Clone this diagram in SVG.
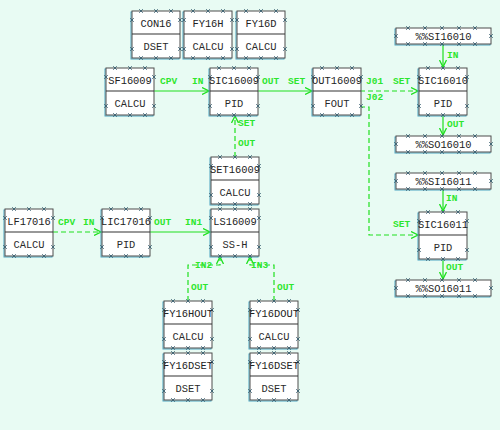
<svg xmlns="http://www.w3.org/2000/svg" xmlns:xlink="http://www.w3.org/1999/xlink" width="500" height="430" viewBox="0 0 500 430">
<style>
.bg{fill:#e8fbf3}
.sh{fill:none;stroke:#4aa3c2;stroke-width:1}
.bx{fill:#ffffff;stroke:#4d4d4d;stroke-width:1}
.dv{stroke:#333;stroke-width:1.2}
.nm,.tp{font-family:"Liberation Mono","DejaVu Sans Mono",monospace;font-size:10.4px;fill:#222;text-anchor:middle}
.tp{fill:#2a2a2a}
.pin{fill:none;stroke:#3a6070;stroke-width:0.9}
.cn{fill:none;stroke:#1ee01e;stroke-width:1.2}
.ds{stroke-dasharray:5,3}
.lb{font-family:"Liberation Mono","DejaVu Sans Mono",monospace;font-size:9.5px;font-weight:bold;fill:#2de62d}
</style>
<defs>
<marker id="ar" viewBox="0 0 8 8" refX="7" refY="4" markerWidth="8" markerHeight="8" markerUnits="userSpaceOnUse" orient="auto">
<path d="M0,0.5 L7,4 L0,7.5" fill="none" stroke="#1ee01e" stroke-width="1.3"/>
</marker>
<path id="x" class="pin" d="M-1.8,-1.8 L1.8,1.8 M-1.8,1.8 L1.8,-1.8"/>
<g id="p48">
<use xlink:href="#x" x="9" y="0"/><use xlink:href="#x" x="24" y="0"/><use xlink:href="#x" x="39" y="0"/>
<use xlink:href="#x" x="9" y="47"/><use xlink:href="#x" x="24" y="47"/><use xlink:href="#x" x="39" y="47"/>
<use xlink:href="#x" x="0" y="9"/><use xlink:href="#x" x="0" y="38"/>
<use xlink:href="#x" x="48" y="9"/><use xlink:href="#x" x="48" y="38"/>
</g>
<g id="p96">
<use xlink:href="#x" x="12" y="0"/><use xlink:href="#x" x="29" y="0"/><use xlink:href="#x" x="46" y="0"/><use xlink:href="#x" x="63" y="0"/><use xlink:href="#x" x="79" y="0"/>
<use xlink:href="#x" x="12" y="16"/><use xlink:href="#x" x="29" y="16"/><use xlink:href="#x" x="46" y="16"/><use xlink:href="#x" x="63" y="16"/><use xlink:href="#x" x="79" y="16"/>
<use xlink:href="#x" x="0" y="8"/><use xlink:href="#x" x="95" y="8"/>
</g>
<g id="frame48">
<rect class="sh" x="-1" y="1" width="48" height="47"/>
<rect class="bx" width="48" height="47"/>
<line class="dv" x1="0" y1="23" x2="48" y2="23"/>
<use xlink:href="#p48"/>
</g>
<g id="frame96">
<rect class="sh" x="-1" y="1" width="95" height="16"/>
<rect class="bx" width="95" height="16"/>
<use xlink:href="#p96"/>
</g>
</defs>
<rect class="bg" width="500" height="430"/>

<g id="connectors">
<path class="cn" d="M154,91 H209" marker-end="url(#ar)"/>
<path class="cn" d="M258,91 H312" marker-end="url(#ar)"/>
<path class="cn ds" d="M360,91 H418" marker-end="url(#ar)"/>
<path class="cn ds" d="M360,107 H369 V235 H418" marker-end="url(#ar)"/>
<path class="cn" d="M443,44 V67" marker-end="url(#ar)"/>
<path class="cn" d="M443,115 V135" marker-end="url(#ar)"/>
<path class="cn" d="M443,188 V211" marker-end="url(#ar)"/>
<path class="cn" d="M443,259 V279" marker-end="url(#ar)"/>
<path class="cn ds" d="M235,157 V116" marker-end="url(#ar)"/>
<path class="cn ds" d="M53,232 H101" marker-end="url(#ar)"/>
<path class="cn" d="M149,232 H210" marker-end="url(#ar)"/>
<path class="cn ds" d="M188,301 V265 H220 V257" marker-end="url(#ar)"/>
<path class="cn ds" d="M274,301 V265 H250 V257" marker-end="url(#ar)"/>
<text class="lb" x="160" y="84">CPV</text>
<text class="lb" x="192" y="84">IN</text>
<text class="lb" x="262" y="84">OUT</text>
<text class="lb" x="288" y="84">SET</text>
<text class="lb" x="366" y="84">J01</text>
<text class="lb" x="393" y="84">SET</text>
<text class="lb" x="366" y="100">J02</text>
<text class="lb" x="447" y="58">IN</text>
<text class="lb" x="447" y="127">OUT</text>
<text class="lb" x="446" y="201">IN</text>
<text class="lb" x="446" y="270">OUT</text>
<text class="lb" x="393" y="227">SET</text>
<text class="lb" x="238" y="126">SET</text>
<text class="lb" x="238" y="146">OUT</text>
<text class="lb" x="58" y="225">CPV</text>
<text class="lb" x="83" y="225">IN</text>
<text class="lb" x="154" y="225">OUT</text>
<text class="lb" x="185" y="225">IN1</text>
<text class="lb" x="195" y="268">IN2</text>
<text class="lb" x="251" y="268">IN3</text>
<text class="lb" x="191" y="290">OUT</text>
<text class="lb" x="277" y="290">OUT</text>
</g>

<g id="CON16" transform="translate(132,11)"><use xlink:href="#frame48"/><text class="nm" x="24" y="16">CON16</text><text class="tp" x="24" y="39">DSET</text></g>
<g id="FY16H" transform="translate(184,11)"><use xlink:href="#frame48"/><text class="nm" x="24" y="16">FY16H</text><text class="tp" x="24" y="39">CALCU</text></g>
<g id="FY16D" transform="translate(237,11)"><use xlink:href="#frame48"/><text class="nm" x="24" y="16">FY16D</text><text class="tp" x="24" y="39">CALCU</text></g>
<g id="SF16009" transform="translate(106,68)"><use xlink:href="#frame48"/><text class="nm" x="24" y="16">SF16009</text><text class="tp" x="24" y="39">CALCU</text></g>
<g id="SIC16009" transform="translate(210,68)"><use xlink:href="#frame48"/><text class="nm" x="24" y="16">SIC16009</text><text class="tp" x="24" y="39">PID</text></g>
<g id="OUT16009" transform="translate(313,68)"><use xlink:href="#frame48"/><text class="nm" x="24" y="16">OUT16009</text><text class="tp" x="24" y="39">FOUT</text></g>
<g id="SIC16010" transform="translate(419,68)"><use xlink:href="#frame48"/><text class="nm" x="24" y="16">SIC16010</text><text class="tp" x="24" y="39">PID</text></g>
<g id="SET16009" transform="translate(211,157)"><use xlink:href="#frame48"/><text class="nm" x="24" y="16">SET16009</text><text class="tp" x="24" y="39">CALCU</text></g>
<g id="LF17016" transform="translate(5,209)"><use xlink:href="#frame48"/><text class="nm" x="24" y="16">LF17016</text><text class="tp" x="24" y="39">CALCU</text></g>
<g id="LIC17016" transform="translate(102,209)"><use xlink:href="#frame48"/><text class="nm" x="24" y="16">LIC17016</text><text class="tp" x="24" y="39">PID</text></g>
<g id="LS16009" transform="translate(211,209)"><use xlink:href="#frame48"/><text class="nm" x="24" y="16">LS16009</text><text class="tp" x="24" y="39">SS-H</text></g>
<g id="SIC16011" transform="translate(419,212)"><use xlink:href="#frame48"/><text class="nm" x="24" y="16">SIC16011</text><text class="tp" x="24" y="39">PID</text></g>
<g id="FY16HOUT" transform="translate(164,301)"><use xlink:href="#frame48"/><text class="nm" x="24" y="16">FY16HOUT</text><text class="tp" x="24" y="39">CALCU</text></g>
<g id="FY16HDSET" transform="translate(164,353)"><use xlink:href="#frame48"/><text class="nm" x="24" y="16">FY16DSET</text><text class="tp" x="24" y="39">DSET</text></g>
<g id="FY16DOUT" transform="translate(250,301)"><use xlink:href="#frame48"/><text class="nm" x="24" y="16">FY16DOUT</text><text class="tp" x="24" y="39">CALCU</text></g>
<g id="FY16DSET" transform="translate(250,353)"><use xlink:href="#frame48"/><text class="nm" x="24" y="16">FY16DSET</text><text class="tp" x="24" y="39">DSET</text></g>
<g id="SI16010" transform="translate(396,28)"><use xlink:href="#frame96"/><text class="nm" x="47.5" y="12">%%SI16010</text></g>
<g id="SO16010" transform="translate(396,136)"><use xlink:href="#frame96"/><text class="nm" x="47.5" y="12">%%SO16010</text></g>
<g id="SI16011" transform="translate(396,173)"><use xlink:href="#frame96"/><text class="nm" x="47.5" y="12">%%SI16011</text></g>
<g id="SO16011" transform="translate(396,280)"><use xlink:href="#frame96"/><text class="nm" x="47.5" y="12">%%SO16011</text></g>
</svg>
